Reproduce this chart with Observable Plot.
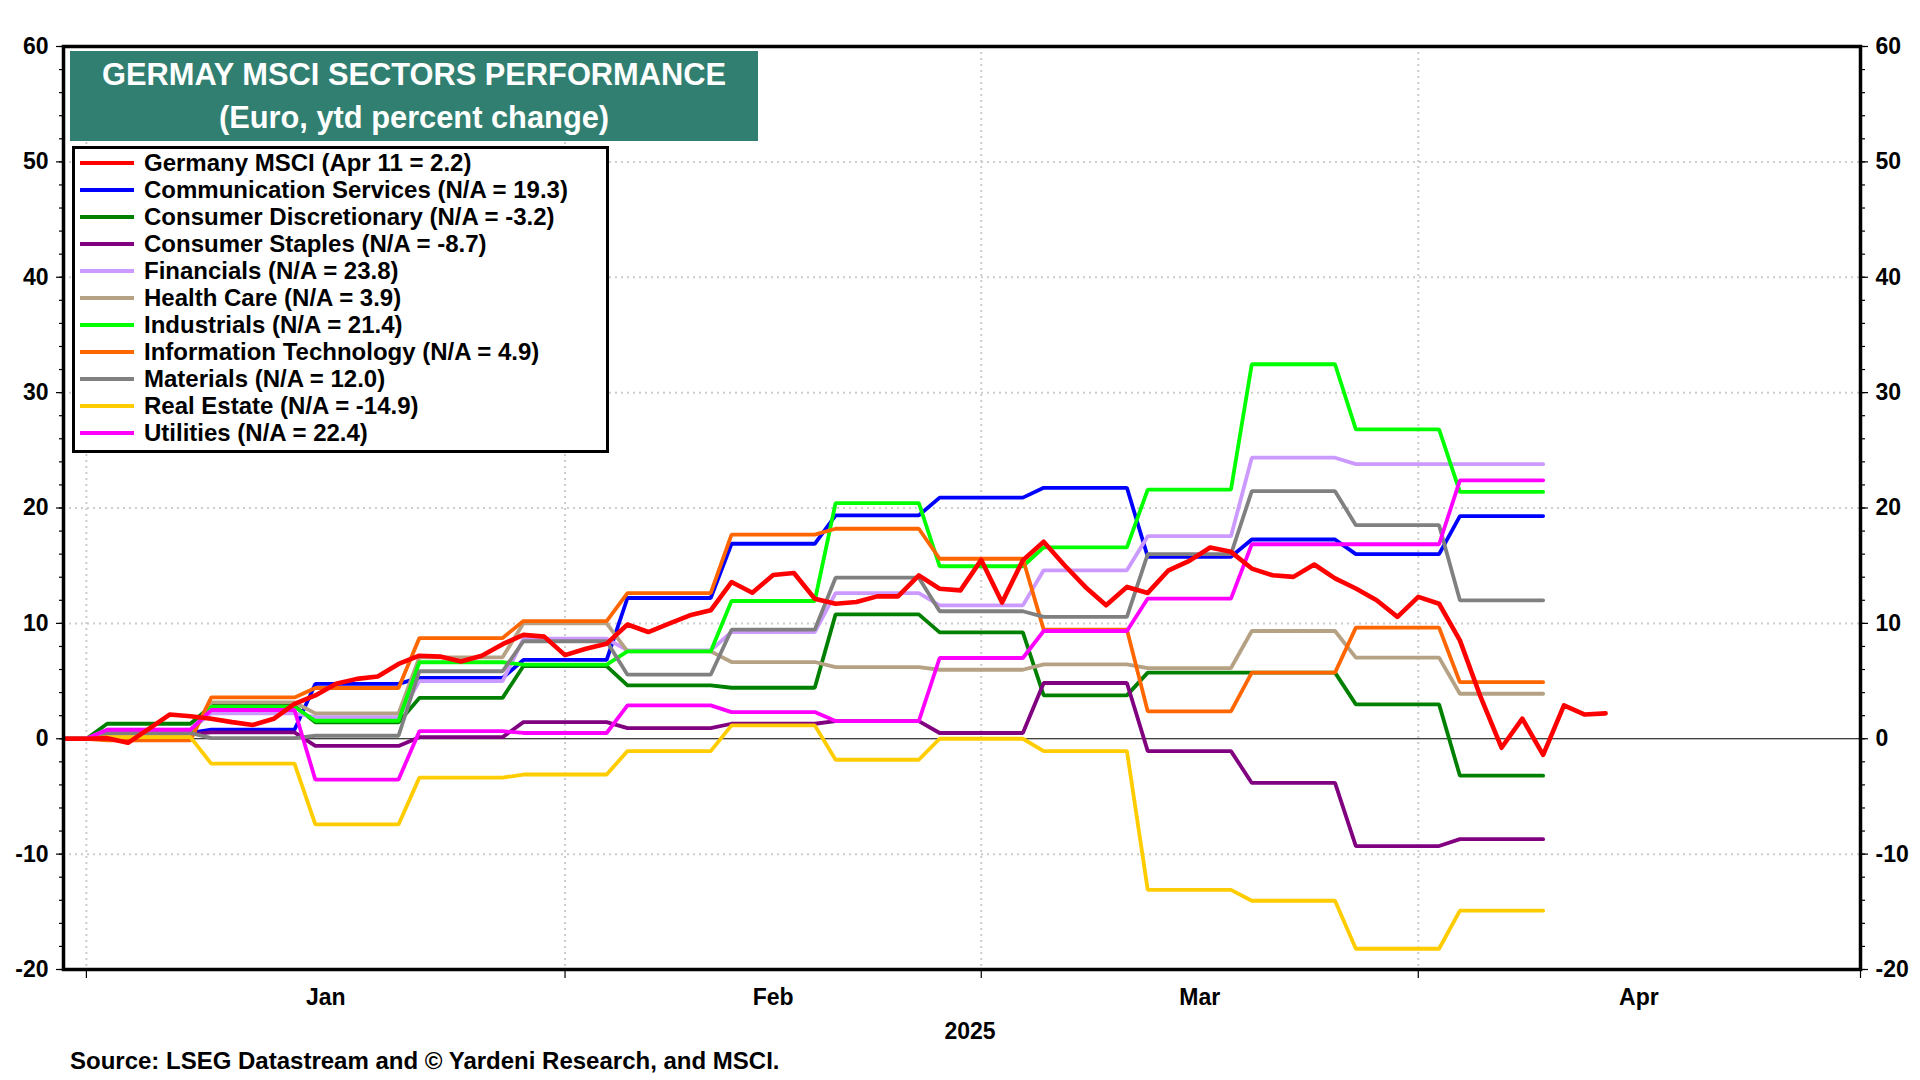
<!DOCTYPE html>
<html>
<head>
<meta charset="utf-8">
<script src="https://cdn.jsdelivr.net/npm/d3@7"></script>
<script src="https://cdn.jsdelivr.net/npm/@observablehq/plot@0.6"></script>
<style>
  html, body { margin: 0; padding: 0; background: #fff; }
  body { width: 1920px; height: 1080px; overflow: hidden; font-family: "Liberation Sans", Arial, sans-serif; font-weight: bold; }
  #wrap { position: relative; width: 1920px; height: 1080px; }
  #chart { position: absolute; left: 0; top: 0; }
  #title { position: absolute; left: 70px; top: 51px; width: 688px; height: 90px; background: #317f70; color: #fff;
           font-size: 30.8px; line-height: 43px; text-align: center; display: flex; flex-direction: column; justify-content: center; }
  #legend { position: absolute; left: 72px; top: 146px; width: 531px; height: 301px; border: 3px solid #000; background: #fff; }
  .row { position: relative; height: 27.05px; line-height: 27.05px; font-size: 24px; color: #000; white-space: nowrap; }
  .sw { position: absolute; left: 5px; top: 12px; width: 54px; height: 3.8px; }
  .lt { position: absolute; left: 69px; top: -0.5px; }
  #year { position: absolute; left: 920px; width: 100px; top: 1018px; text-align: center; font-size: 23px; }
  #source { position: absolute; left: 70px; top: 1047px; font-size: 24px; white-space: nowrap; }
</style>
</head>
<body>
<div id="wrap">
  <div id="chart"></div>
  <div id="title"><div>GERMAY MSCI SECTORS PERFORMANCE</div><div>(Euro, ytd percent change)</div></div>
  <div id="legend"></div>
  <div id="year">2025</div>
  <div id="source">Source: LSEG Datastream and © Yardeni Research, and MSCI.</div>
</div>
<script>
// ---- Data (business-day index 0 = year start) ----
const germanyMSCI = [
  0, 0, 0.05, -0.35, 0.86, 2.1, 1.95, 1.73, 1.44, 1.2,
  1.73, 3.03, 3.75, 4.76, 5.19, 5.39, 6.48, 7.2, 7.12, 6.7,
  7.2, 8.2, 9.0, 8.85, 7.25, 7.8, 8.24, 9.9, 9.25, 9.97,
  10.7, 11.13, 13.58, 12.66, 14.2, 14.36, 12.14, 11.7, 11.85, 12.34,
  12.34, 14.16, 13.0, 12.86, 15.5, 11.8, 15.48, 17.07, 15.04, 13.16,
  11.57, 13.16, 12.64, 14.6, 15.42, 16.58, 16.2, 14.75, 14.17, 14.03,
  15.1, 13.9, 13.02, 12.0, 10.56, 12.3, 11.7, 8.53, 3.6, -0.78,
  1.74, -1.39, 2.89, 2.1, 2.2
];

// Sector series are weekly readings, each held from weekStart to weekEnd
const weekStart = [0, 2, 7, 12, 17, 22, 27, 32, 37, 42, 47, 52, 57, 62, 67];
const weekEnd   = [1, 6, 11, 16, 21, 26, 31, 36, 41, 46, 51, 56, 61, 66, 71];

const communicationServices = [0, 0.5, 0.78, 4.75, 5.27, 6.83, 12.2, 16.9, 19.36, 20.9, 21.75, 15.77, 17.27, 16.0, 19.3];
const consumerDiscretionary = [0, 1.3, 2.85, 1.42, 3.54, 6.3, 4.62, 4.42, 10.78, 9.22, 3.76, 5.73, 5.73, 2.98, -3.2];
const consumerStaples       = [0, 0.4, 0.55, -0.62, 0.14, 1.44, 0.92, 1.3, 1.53, 0.5, 4.83, -1.07, -3.83, -9.3, -8.7];
const financials            = [0, 0.78, 2.2, 1.87, 5.0, 8.67, 7.66, 9.25, 12.63, 11.56, 14.6, 17.56, 24.36, 23.8, 23.8];
const healthCare            = [0, 0.3, 3.15, 2.2, 7.06, 10.0, 7.57, 6.65, 6.2, 5.98, 6.45, 6.13, 9.34, 7.03, 3.9];
const industrials           = [0, 0.5, 2.75, 1.56, 6.63, 6.42, 7.57, 11.94, 20.43, 14.95, 16.58, 21.6, 32.46, 26.82, 21.4];
const informationTechnology = [0, -0.14, 3.58, 4.4, 8.73, 10.2, 12.63, 17.69, 18.2, 15.6, 9.46, 2.37, 5.73, 9.63, 4.9];
const materials             = [0, 0.5, 0.06, 0.26, 5.85, 8.45, 5.55, 9.45, 13.96, 11.05, 10.56, 16.0, 21.46, 18.51, 12.0];
const realEstate            = [0, 0.14, -2.16, -7.43, -3.37, -3.1, -1.07, 1.16, -1.82, 0.0, -1.07, -13.1, -14.04, -18.2, -14.9];
const utilities             = [0, 0.78, 2.49, -3.54, 0.66, 0.5, 2.89, 2.31, 1.53, 7.0, 9.34, 12.15, 16.86, 16.86, 22.4];

const seriesNames = [
  "Germany MSCI (Apr 11 = 2.2)",
  "Communication Services (N/A = 19.3)",
  "Consumer Discretionary (N/A = -3.2)",
  "Consumer Staples (N/A = -8.7)",
  "Financials (N/A = 23.8)",
  "Health Care (N/A = 3.9)",
  "Industrials (N/A = 21.4)",
  "Information Technology (N/A = 4.9)",
  "Materials (N/A = 12.0)",
  "Real Estate (N/A = -14.9)",
  "Utilities (N/A = 22.4)"
];
const seriesColors = ["#ff0000", "#0000ff", "#008000", "#800080", "#cc99ff", "#b5a183",
                      "#00ff00", "#ff6600", "#808080", "#ffcc00", "#ff00ff"];

const monthTicks = [1, 24, 44, 65, 86.25];
const monthLabelPos = [12.5, 34, 54.5, 75.6];
const monthLabels = ["Jan", "Feb", "Mar", "Apr"];
const yMajor = [-20, -10, 0, 10, 20, 30, 40, 50, 60];
const yMinor = d3.range(-20, 61, 2);
const yGrid = [-10, 10, 20, 30, 40, 50];

// ---- Build tables ----
const sectorValues = [communicationServices, consumerDiscretionary, consumerStaples, financials, healthCare,
                      industrials, informationTechnology, materials, realEstate, utilities];
const sectorTables = sectorValues.map(vals => {
  const pts = [];
  vals.forEach((v, k) => { pts.push({x: weekStart[k], y: v}); pts.push({x: weekEnd[k], y: v}); });
  return pts;
});
const germanyTable = germanyMSCI.map((v, i) => ({x: i, y: v}));

const fontStyle = {fontSize: 23, fontWeight: "bold"};

const chart = Plot.plot({
  width: 1920,
  height: 1080,
  marginLeft: 63,
  marginRight: 60,
  marginTop: 46,
  marginBottom: 111,
  style: {fontFamily: "'Liberation Sans', Arial, sans-serif", fontWeight: "bold", color: "#000", background: "transparent"},
  x: {domain: [-0.1, 86.25], axis: null},
  y: {domain: [-20, 60], axis: null},
  marks: [
    Plot.gridY(yGrid, {stroke: "#cccccc", strokeOpacity: 1, strokeWidth: 2, strokeDasharray: "2,4"}),
    Plot.gridX(monthTicks.slice(0, 4), {stroke: "#cccccc", strokeOpacity: 1, strokeWidth: 2, strokeDasharray: "2,4"}),
    Plot.ruleY([0], {stroke: "#000", strokeWidth: 1.2}),
    ...sectorTables.map((t, k) => Plot.line(t, {x: "x", y: "y", stroke: seriesColors[k + 1], strokeWidth: 3.8, strokeLinejoin: "miter"})),
    Plot.line(germanyTable, {x: "x", y: "y", stroke: seriesColors[0], strokeWidth: 4.6, strokeLinejoin: "round"}),
    Plot.axisY({anchor: "left", ticks: yMinor, tickSize: 4, tickFormat: () => "", label: null, strokeWidth: 1.2}),
    Plot.axisY({anchor: "right", ticks: yMinor, tickSize: 4, tickFormat: () => "", label: null, strokeWidth: 1.2}),
    Plot.axisY({anchor: "left", ticks: yMajor, tickSize: 7, tickPadding: 8, tickFormat: d => String(d), label: null, strokeWidth: 1.2, ...fontStyle}),
    Plot.axisY({anchor: "right", ticks: yMajor, tickSize: 7, tickPadding: 8, tickFormat: d => String(d), label: null, strokeWidth: 1.2, ...fontStyle}),
    Plot.axisX({anchor: "bottom", ticks: monthTicks, tickSize: 9, tickFormat: () => "", label: null, strokeWidth: 1.2}),
    Plot.axisX({anchor: "bottom", ticks: monthLabelPos, tickSize: 0, tickPadding: 19, tickFormat: (d, i) => monthLabels[i], label: null, ...fontStyle}),
    Plot.frame({stroke: "#000", strokeWidth: 3.5})
  ]
});
document.getElementById("chart").appendChild(chart);

// ---- Legend ----
const legend = document.getElementById("legend");
seriesNames.forEach((name, i) => {
  const row = document.createElement("div");
  row.className = "row";
  const sw = document.createElement("div");
  sw.className = "sw";
  sw.style.background = seriesColors[i];
  const lt = document.createElement("div");
  lt.className = "lt";
  lt.textContent = name;
  row.appendChild(sw);
  row.appendChild(lt);
  legend.appendChild(row);
});
</script>
</body>
</html>
